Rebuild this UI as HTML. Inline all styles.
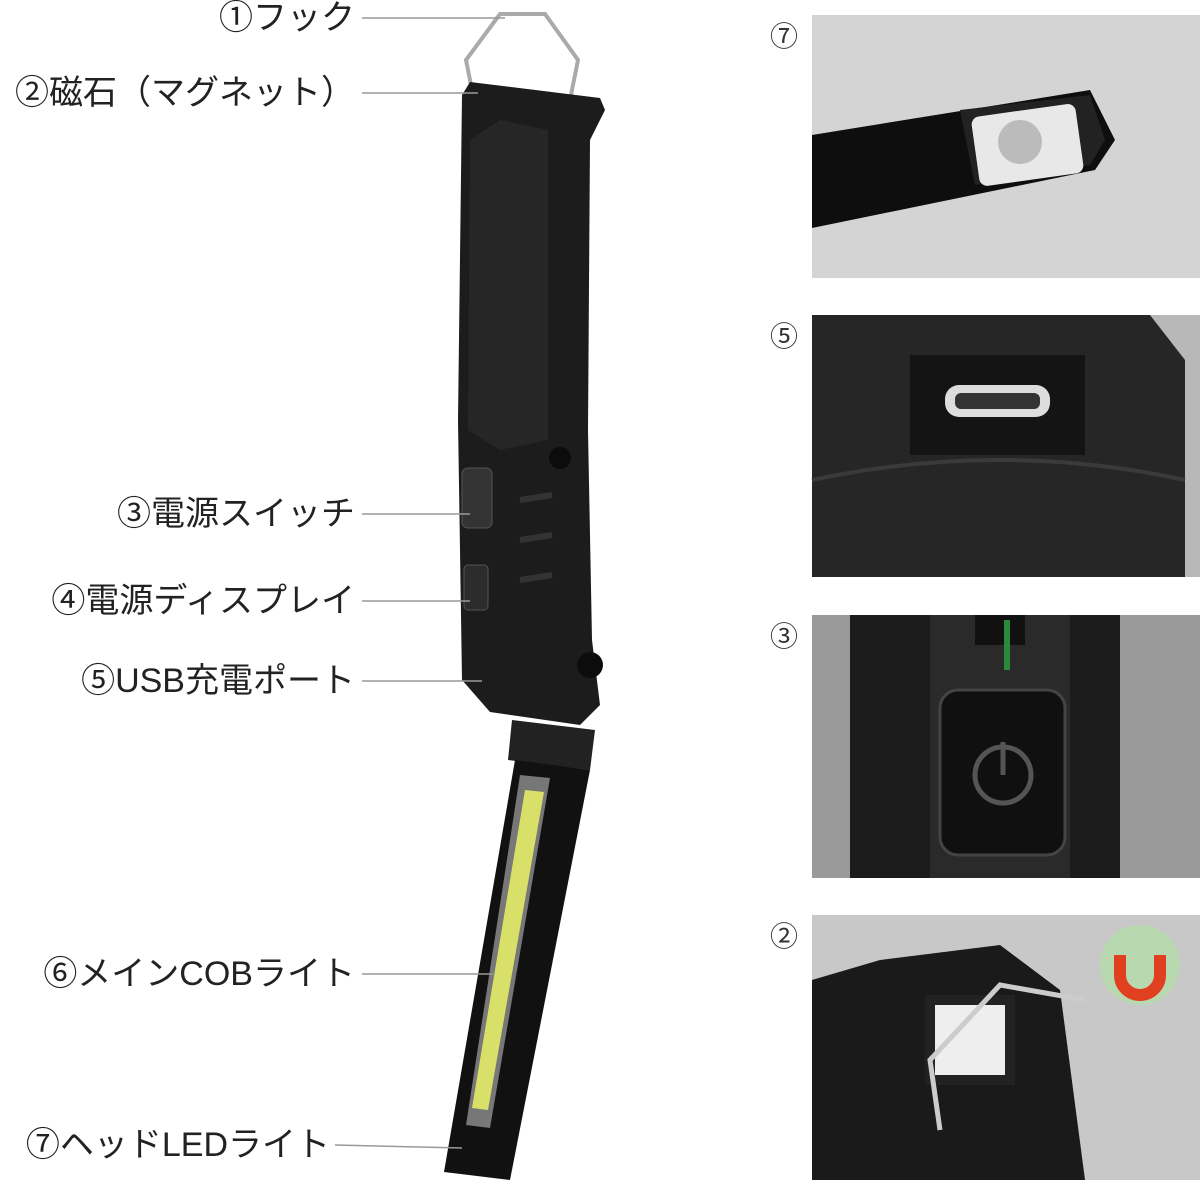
<!DOCTYPE html>
<html><head><meta charset="utf-8"><style>
html,body{margin:0;padding:0;background:#fff;}
body{width:1200px;height:1184px;overflow:hidden;position:relative;font-family:"Liberation Sans","Noto Sans CJK JP",sans-serif;}
.l{position:absolute;right:845px;font-size:34px;letter-spacing:0px;color:#222;white-space:nowrap;line-height:36px;}
.n{position:absolute;font-size:28px;color:#333;left:770px;}
</style></head><body>
<svg width="1200" height="1184" style="position:absolute;left:0;top:0">
<path d="M472 90 L466 60 L500 14 L545 14 L578 60 L570 100" fill="none" stroke="#aaa" stroke-width="4"/>
<path d="M462 95 L470 82 L600 98 L605 110 L590 140 L588 430 L592 640 L600 705 L580 725 L490 712 L462 680 L458 420 Z" fill="#1c1c1c"/>
<path d="M470 140 L500 120 L548 130 L548 440 L500 450 L468 430 Z" fill="#262626"/>
<rect x="462" y="468" width="30" height="60" rx="6" fill="#333" stroke="#555"/>
<rect x="464" y="565" width="24" height="45" rx="4" fill="#2c2c2c" stroke="#555"/>
<circle cx="560" cy="458" r="11" fill="#0c0c0c"/>
<circle cx="590" cy="665" r="13" fill="#0c0c0c"/>
<path d="M520 500 L552 495 M520 540 L552 535 M520 580 L552 575" stroke="#333" stroke-width="6"/>
<path d="M512 720 L595 730 L590 770 L508 760 Z" fill="#222"/>
<path d="M515 760 L590 770 L510 1180 L444 1172 Z" fill="#111"/>
<path d="M520 775 L550 778 L490 1128 L466 1125 Z" fill="#777"/>
<path d="M525 790 L544 792 L488 1110 L472 1108 Z" fill="#d9e06a"/>
<g stroke="#999" stroke-width="1.5">
<line x1="362" y1="18" x2="505" y2="18"/>
<line x1="362" y1="93" x2="478" y2="93"/>
<line x1="362" y1="514" x2="470" y2="514"/>
<line x1="362" y1="601" x2="470" y2="601"/>
<line x1="362" y1="681" x2="482" y2="681"/>
<line x1="362" y1="974" x2="495" y2="974"/>
<line x1="335" y1="1145" x2="462" y2="1148"/>
</g>
<rect x="812" y="15" width="388" height="263" fill="#d4d4d4"/>
<path d="M812 135 L1090 90 L1115 140 L1095 170 L812 228 Z" fill="#0e0e0e"/>
<path d="M960 110 L1090 95 L1105 140 L1090 165 L975 185 Z" fill="#222"/>
<rect x="975" y="110" width="105" height="70" rx="8" fill="#e8e8e8" transform="rotate(-8 1027 145)"/>
<circle cx="1020" cy="142" r="22" fill="#bbb"/>
<rect x="812" y="315" width="388" height="262" fill="#b8b8b8"/>
<path d="M812 315 L1150 315 L1185 360 L1185 577 L812 577 Z" fill="#262626"/>
<rect x="910" y="355" width="175" height="100" fill="#141414"/>
<rect x="945" y="385" width="105" height="32" rx="14" fill="#ddd"/>
<rect x="955" y="393" width="85" height="16" rx="6" fill="#333"/>
<path d="M812 480 Q1000 440 1185 480" stroke="#3a3a3a" stroke-width="4" fill="none"/>
<rect x="812" y="615" width="388" height="263" fill="#9a9a9a"/>
<rect x="850" y="615" width="270" height="263" fill="#1c1c1c"/>
<rect x="930" y="615" width="140" height="263" fill="#2a2a2a"/>
<rect x="975" y="615" width="50" height="30" fill="#111"/>
<rect x="1004" y="620" width="6" height="50" fill="#2a8a3a"/>
<rect x="940" y="690" width="125" height="165" rx="18" fill="#101010" stroke="#444" stroke-width="3"/>
<circle cx="1003" cy="775" r="28" fill="none" stroke="#555" stroke-width="5"/>
<line x1="1003" y1="742" x2="1003" y2="775" stroke="#555" stroke-width="5"/>
<rect x="812" y="915" width="388" height="265" fill="#c8c8c8"/>
<path d="M812 980 L880 960 L1000 945 L1060 990 L1085 1180 L812 1180 Z" fill="#1a1a1a"/>
<rect x="930" y="1000" width="80" height="80" fill="#eee" stroke="#222" stroke-width="10"/>
<path d="M940 1130 L930 1060 L1000 985 L1085 1000" fill="none" stroke="#ccc" stroke-width="5"/>
<circle cx="1140" cy="965" r="40" fill="#b8d8b0"/>
<path d="M1120 955 L1120 975 A20 20 0 0 0 1160 975 L1160 955" fill="none" stroke="#e04020" stroke-width="12"/>
</svg>
<div class="l" style="top:0px">①フック</div>
<div class="l" style="top:75px">②磁石（マグネット）</div>
<div class="l" style="top:496px">③電源スイッチ</div>
<div class="l" style="top:583px">④電源ディスプレイ</div>
<div class="l" style="top:663px">⑤USB充電ポート</div>
<div class="l" style="top:956px">⑥メインCOBライト</div>
<div class="l" style="top:1127px;right:870px">⑦ヘッドLEDライト</div>
<div class="n" style="top:15px">⑦</div>
<div class="n" style="top:315px">⑤</div>
<div class="n" style="top:615px">③</div>
<div class="n" style="top:915px">②</div>
</body></html>
